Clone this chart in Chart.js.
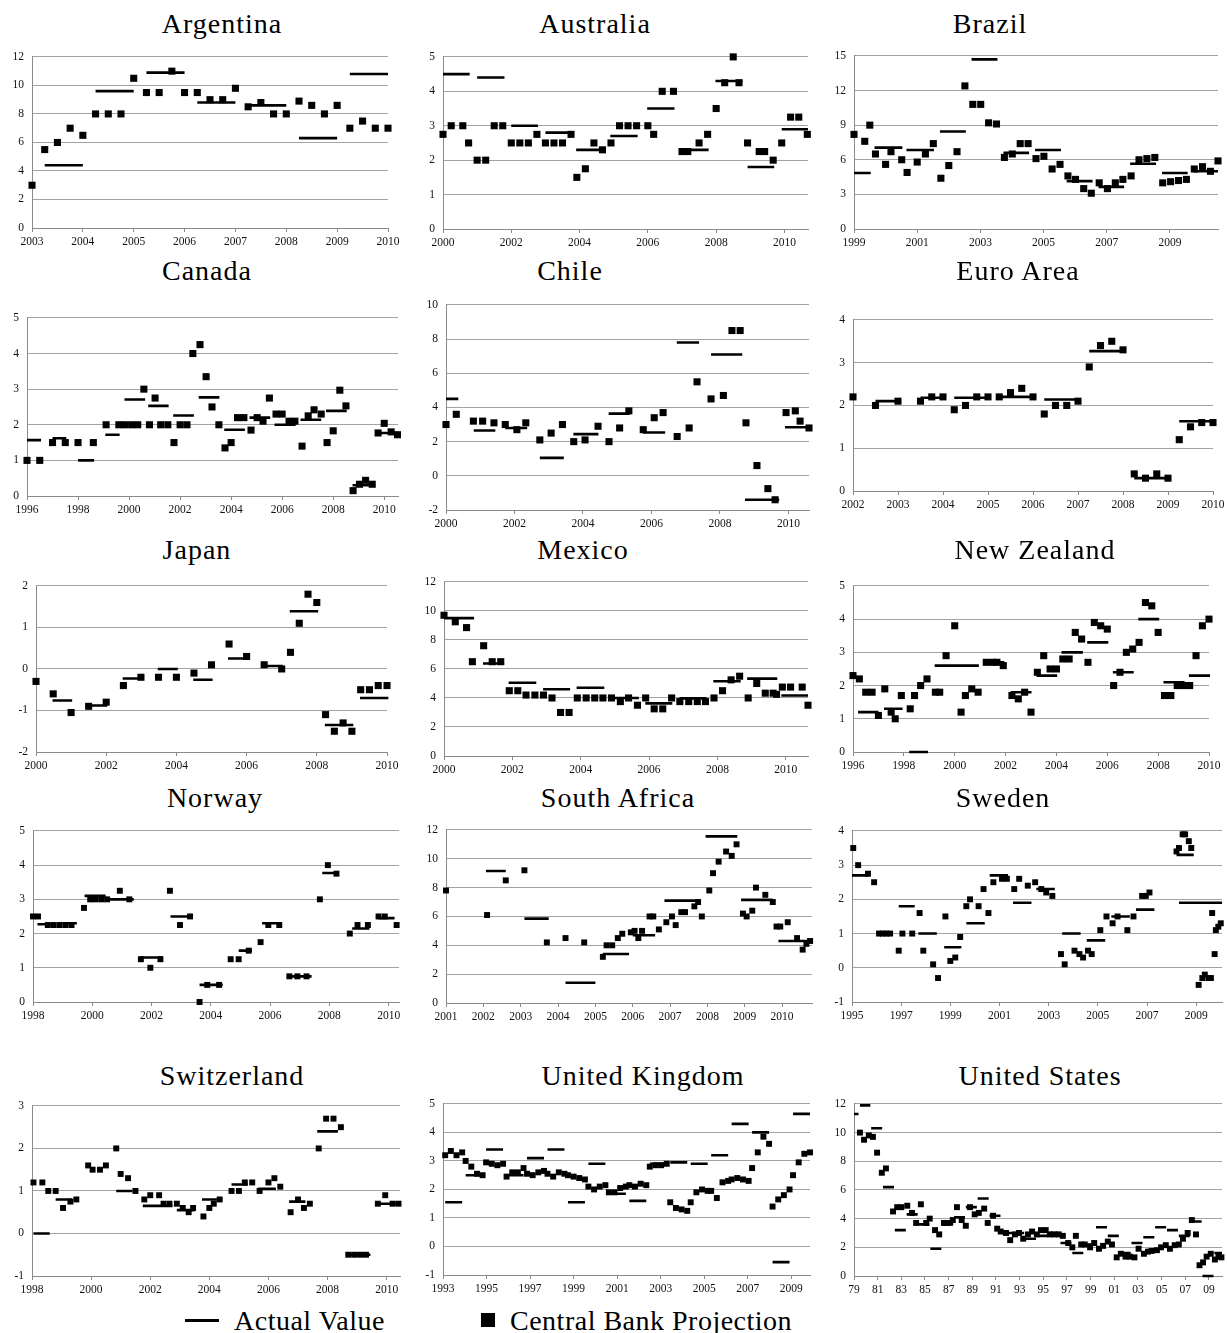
<!DOCTYPE html>
<html>
<head>
<meta charset="utf-8">
<script src="https://cdn.jsdelivr.net/npm/chart.js@4.4.1/dist/chart.umd.min.js"></script>
<style>
  html, body { margin: 0; padding: 0; background: #fff; }
  body { width: 1227px; height: 1333px; position: relative; overflow: hidden; }
  .ttl { position: absolute; width: 400px; text-align: center; font-family: "Liberation Serif", "DejaVu Serif", serif;
         font-size: 28px; line-height: 28px; letter-spacing: 1px; color: #000; white-space: nowrap; }
  .leg { position: absolute; font-family: "Liberation Serif", serif; font-size: 28px; line-height: 28px;
         letter-spacing: 0.5px; color: #000; white-space: nowrap; }
</style>
</head>
<body>
<script>
// ---- Argentina
const argProjX = [2003,2003.25,2003.5,2003.75,2004,2004.25,2004.5,2004.75,2005,2005.25,2005.5,2005.75,2006,2006.25,2006.5,2006.75,2007,2007.25,2007.5,2007.75,2008,2008.25,2008.5,2008.75,2009,2009.25,2009.5,2009.75,2010];
const argProjY = [3,5.5,6,7,6.5,8,8,8,10.5,9.5,9.5,11,9.5,9.5,9,9,9.8,8.5,8.8,8,8,8.9,8.6,8,8.6,7,7.5,7,7];
const argActFrom = [2003.25,2004.25,2005.25,2006.25,2007.25,2008.25,2009.25];
const argActTo = [2004,2005,2006,2007,2008,2009,2010];
const argActY = [4.4,9.6,10.9,8.8,8.6,6.3,10.8];
const argXTicks = [2003,2004,2005,2006,2007,2008,2009,2010];
const argYTicks = [0,2,4,6,8,10,12];

// ---- Australia
const ausProjX = [2000,2000.24,2000.58,2000.75,2001,2001.25,2001.5,2001.75,2002,2002.25,2002.5,2002.75,2003,2003.25,2003.5,2003.75,2003.92,2004.17,2004.42,2004.67,2004.92,2005.17,2005.42,2005.67,2006,2006.17,2006.42,2006.75,2007,2007.17,2007.5,2007.75,2008,2008.25,2008.5,2008.67,2008.92,2009.26,2009.42,2009.67,2009.92,2010.18,2010.42,2010.67];
const ausProjY = [2.75,3,3,2.5,2,2,3,3,2.5,2.5,2.5,2.75,2.5,2.5,2.5,2.75,1.5,1.75,2.5,2.3,2.5,3,3,3,3,2.75,4,4,2.25,2.25,2.5,2.75,3.5,4.25,5,4.25,2.5,2.25,2.25,2,2.5,3.25,3.25,2.75];
const ausActFrom = [2000,2001,2002,2003,2003.9,2004.9,2005.98,2007.08,2007.98,2008.92,2009.92];
const ausActTo = [2000.78,2001.8,2002.78,2003.78,2004.75,2005.7,2006.78,2007.78,2008.77,2009.7,2010.69];
const ausActY = [4.5,4.4,3,2.8,2.3,2.7,3.5,2.3,4.3,1.8,2.9];
const ausXTicks = [2000,2002,2004,2006,2008,2010];
const ausYTicks = [0,1,2,3,4,5];

// ---- Brazil
const braProjX = [1999,1999.34,1999.5,1999.68,2000,2000.17,2000.51,2000.68,2001,2001.26,2001.51,2001.75,2002,2002.26,2002.51,2002.76,2003.01,2003.26,2003.51,2003.76,2004.01,2004.26,2004.51,2004.76,2005.01,2005.27,2005.52,2005.77,2006.01,2006.27,2006.51,2006.76,2007.02,2007.27,2007.51,2007.77,2008.02,2008.27,2008.52,2008.77,2009.02,2009.27,2009.52,2009.77,2010.03,2010.28,2010.52];
const braProjY = [8.2,7.6,9,6.5,5.6,6.7,6,4.9,5.8,6.5,7.4,4.4,5.5,6.7,12.4,10.8,10.8,9.2,9.1,6.2,6.5,7.4,7.4,6.1,6.3,5.2,5.6,4.6,4.3,3.5,3.1,4,3.5,4,4.3,4.6,6,6.1,6.2,4,4.1,4.2,4.3,5.2,5.4,5,5.9];
const braActFrom = [1999,1999.65,2000.66,2001.72,2002.72,2003.73,2004.73,2005.73,2006.74,2007.74,2008.75,2009.75];
const braActTo = [1999.53,2000.53,2001.53,2002.54,2003.54,2004.54,2005.55,2006.55,2007.55,2008.56,2009.56,2010.52];
const braActY = [4.85,7.05,6.85,8.45,14.7,6.6,6.85,4.15,3.65,5.65,4.85,5.0];
const braXTicks = [1999,2001,2003,2005,2007,2009];
const braYTicks = [0,3,6,9,12,15];

// ---- Canada
const canProjX = [1996,1996.5,1997,1997.5,1998,1998.6,1999.1,1999.6,1999.83,2000.1,2000.34,2000.58,2000.8,2001.02,2001.24,2001.52,2001.76,2002,2002.27,2002.5,2002.78,2003.02,2003.25,2003.52,2003.76,2004,2004.25,2004.5,2004.78,2005.02,2005.25,2005.5,2005.76,2006,2006.27,2006.5,2006.78,2007.02,2007.25,2007.53,2007.76,2008,2008.26,2008.5,2008.78,2009.03,2009.27,2009.53,2009.76,2010,2010.27,2010.52];
const canProjY = [1,1,1.5,1.5,1.5,1.5,2,2,2,2,2,3,2,2.75,2,2,1.5,2,2,4,4.25,3.35,2.5,2,1.35,1.5,2.2,2.2,1.85,2.2,2.1,2.75,2.3,2.3,2.1,2.1,1.4,2.25,2.42,2.3,1.5,1.83,2.97,2.53,0.15,0.33,0.44,0.33,1.77,2.04,1.8,1.72];
const canActFrom = [1996,1997,1998,1999.07,1999.82,2000.75,2001.73,2002.73,2003.73,2004.72,2005.7,2006.72,2007.72,2008.76,2009.75];
const canActTo = [1996.55,1997.54,1998.63,1999.63,2000.63,2001.55,2002.54,2003.54,2004.54,2005.53,2006.53,2007.53,2008.53,2009.55,2010.54];
const canActY = [1.57,1.62,1.0,1.72,2.71,2.53,2.26,2.77,1.86,2.2,2.0,2.14,2.39,0.3,1.77];
const canXTicks = [1996,1998,2000,2002,2004,2006,2008,2010];
const canYTicks = [0,1,2,3,4,5];

// ---- Chile
const chiProjX = [2000,2000.3,2000.8,2001.07,2001.4,2001.73,2002.07,2002.33,2002.74,2003.07,2003.4,2003.73,2004.06,2004.44,2004.76,2005.07,2005.34,2005.76,2006.08,2006.34,2006.75,2007.1,2007.33,2007.74,2008.1,2008.35,2008.59,2008.76,2009.08,2009.4,2009.61,2009.93,2010.2,2010.34,2010.6];
const chiProjY = [3,3.6,3.2,3.2,3.1,3,2.7,3.1,2.1,2.5,3,2,2.1,2.9,2,2.8,3.8,2.7,3.4,3.7,2.3,2.8,5.5,4.5,4.7,8.5,8.5,3.1,0.6,-0.75,-1.4,3.7,3.8,3.2,2.8];
const chiActFrom = [2000,2000.81,2001.73,2002.74,2003.72,2004.75,2005.75,2006.74,2007.74,2008.73,2009.9];
const chiActTo = [2000.36,2001.44,2002.37,2003.44,2004.45,2005.36,2006.4,2007.39,2008.65,2009.73,2010.6];
const chiActY = [4.5,2.65,2.8,1.05,2.44,3.64,2.53,7.8,7.1,-1.4,2.84];
const chiXTicks = [2000,2002,2004,2006,2008,2010];
const chiYTicks = [-2,0,2,4,6,8,10];

// ---- Euro Area
const euroProjX = [2002,2002.5,2003,2003.5,2003.75,2004,2004.25,2004.5,2004.75,2005,2005.25,2005.5,2005.75,2006,2006.25,2006.5,2006.75,2007,2007.25,2007.5,2007.75,2008,2008.25,2008.5,2008.75,2009,2009.25,2009.5,2009.75,2010];
const euroProjY = [2.2,2,2.1,2.1,2.2,2.2,1.9,2,2.2,2.2,2.2,2.3,2.4,2.2,1.8,2,2,2.1,2.9,3.4,3.5,3.3,0.4,0.3,0.4,0.3,1.2,1.5,1.6,1.6];
const euroActFrom = [2002.5,2003.5,2004.25,2005.25,2006.25,2007.25,2008.25,2009.25];
const euroActTo = [2003,2004,2005,2006,2007,2008,2009,2010];
const euroActY = [2.1,2.18,2.18,2.2,2.14,3.27,0.3,1.63];
const euroXTicks = [2002,2003,2004,2005,2006,2007,2008,2009,2010];
const euroYTicks = [0,1,2,3,4];

// ---- Japan
const japProjX = [2000,2000.49,2001,2001.5,2002,2002.49,2002.99,2003.49,2004,2004.5,2005,2005.5,2006,2006.5,2007,2007.25,2007.5,2007.75,2008,2008.25,2008.5,2008.75,2009,2009.25,2009.5,2009.75,2010];
const japProjY = [-0.3,-0.6,-1.05,-0.9,-0.8,-0.4,-0.2,-0.2,-0.2,-0.1,0.1,0.6,0.3,0.1,0,0.4,1.1,1.8,1.6,-1.1,-1.5,-1.3,-1.5,-0.5,-0.5,-0.4,-0.4];
const japActFrom = [2000.47,2001.48,2002.47,2003.47,2004.48,2005.47,2006.48,2007.23,2008.23,2009.23];
const japActTo = [2001.03,2002.03,2003.03,2004.04,2005.03,2006.04,2007.03,2008.04,2009.04,2010.04];
const japActY = [-0.76,-0.88,-0.23,0,-0.26,0.25,0.07,1.39,-1.35,-0.7];
const japXTicks = [2000,2002,2004,2006,2008,2010];
const japYTicks = [-2,-1,0,1,2];

// ---- Mexico
const mexProjX = [2000,2000.33,2000.66,2000.83,2001.16,2001.41,2001.66,2001.91,2002.16,2002.4,2002.66,2002.91,2003.16,2003.41,2003.66,2003.9,2004.16,2004.41,2004.65,2004.9,2005.16,2005.4,2005.66,2005.9,2006.15,2006.4,2006.66,2006.9,2007.16,2007.41,2007.65,2007.9,2008.15,2008.4,2008.65,2008.9,2009.15,2009.4,2009.63,2009.73,2009.9,2010.14,2010.48,2010.65];
const mexProjY = [9.7,9.25,8.85,6.5,7.6,6.5,6.5,4.5,4.5,4.2,4.2,4.2,4,3,3,4,4,4,4,4,3.75,4,3.5,4,3.25,3.25,4,3.75,3.75,3.75,3.75,4,4.5,5.25,5.5,4,5,4.33,4.33,4.25,4.75,4.75,4.75,3.5];
const mexActFrom = [2000,2001.14,2001.89,2002.9,2003.88,2004.9,2005.89,2006.89,2007.88,2008.87,2009.87];
const mexActTo = [2000.88,2001.76,2002.7,2003.69,2004.69,2005.7,2006.68,2007.68,2008.68,2009.75,2010.65];
const mexActY = [9.5,6.38,5.05,4.6,4.7,4.0,3.63,3.97,5.15,5.33,4.17];
const mexXTicks = [2000,2002,2004,2006,2008,2010];
const mexYTicks = [0,2,4,6,8,10,12];

// ---- New Zealand
const nzProjX = [1996,1996.25,1996.5,1996.75,1997,1997.25,1997.5,1997.66,1997.9,1998.25,1998.42,1998.66,1998.91,1999.24,1999.41,1999.66,2000,2000.25,2000.42,2000.67,2000.92,2001.24,2001.49,2001.66,2001.91,2002.25,2002.5,2002.75,2003,2003.25,2003.5,2003.75,2004,2004.25,2004.5,2004.74,2004.99,2005.24,2005.49,2005.74,2006,2006.25,2006.5,2006.75,2007,2007.25,2007.5,2007.75,2008,2008.25,2008.5,2008.75,2009,2009.24,2009.49,2009.74,2010];
const nzProjY = [2.3,2.2,1.8,1.8,1.1,1.9,1.2,1.0,1.7,1.3,1.7,2.0,2.2,1.8,1.8,2.9,3.8,1.2,1.7,1.9,1.8,2.7,2.7,2.7,2.6,1.7,1.6,1.8,1.2,2.4,2.9,2.5,2.5,2.8,2.8,3.6,3.4,2.7,3.9,3.8,3.7,2.0,2.4,3.0,3.1,3.3,4.5,4.4,3.6,1.7,1.7,2.0,2.0,2.0,2.9,3.8,4.0];
const nzActFrom = [1996.2,1997.22,1998.21,1999.21,2001.15,2002.2,2003.22,2004.2,2005.21,2006.22,2007.22,2008.21,2009.21];
const nzActTo = [1997.0,1997.95,1998.95,2000.95,2001.95,2003.02,2004.03,2005.04,2006.04,2007.04,2008.04,2009.04,2010.04];
const nzActY = [1.2,1.3,0,2.6,2.7,1.8,2.3,3.0,3.3,2.4,4.0,2.1,2.3];
const nzXTicks = [1996,1998,2000,2002,2004,2006,2008,2010];
const nzYTicks = [0,1,2,3,4,5];

// ---- Norway
const norProjX = [1998,1998.17,1998.5,1998.7,1998.9,1999.1,1999.3,1999.72,1999.93,2000.1,2000.3,2000.5,2000.93,2001.25,2001.64,2001.96,2002.3,2002.62,2002.96,2003.3,2003.62,2003.88,2004.28,2004.67,2004.94,2005.28,2005.68,2005.94,2006.31,2006.65,2006.92,2007.23,2007.68,2007.95,2008.24,2008.69,2008.95,2009.3,2009.66,2009.87,2010.27];
const norProjY = [2.5,2.5,2.25,2.25,2.25,2.25,2.25,2.75,3,3,3,3,3.25,3,1.25,1,1.25,3.25,2.25,2.5,0,0.5,0.5,1.25,1.25,1.5,1.75,2.25,2.25,0.75,0.75,0.75,3,4,3.75,2,2.25,2.25,2.5,2.5,2.25];
const norActFrom = [1998.15,1999.0,1999.74,2000.6,2001.6,2002.64,2003.62,2004.94,2005.73,2006.6,2007.76,2008.77,2009.66];
const norActTo = [1998.75,1999.48,2000.45,2001.4,2002.38,2003.36,2004.4,2005.39,2006.39,2007.4,2008.29,2009.35,2010.2];
const norActY = [2.27,2.3,3.1,3.0,1.3,2.5,0.5,1.5,2.3,0.75,3.77,2.15,2.45];
const norXTicks = [1998,2000,2002,2004,2006,2008,2010];
const norYTicks = [0,1,2,3,4,5];

// ---- South Africa
const safProjX = [2001,2002.1,2002.6,2003.1,2003.7,2004.2,2004.7,2005.2,2005.3,2005.45,2005.6,2005.72,2005.95,2006.05,2006.15,2006.25,2006.45,2006.55,2006.7,2006.9,2007.05,2007.15,2007.3,2007.4,2007.65,2007.75,2007.85,2008.05,2008.15,2008.3,2008.5,2008.65,2008.78,2008.95,2009.05,2009.2,2009.3,2009.55,2009.75,2009.85,2009.95,2010.15,2010.4,2010.55,2010.65,2010.75];
const safProjY = [7.8,6.1,8.5,9.2,4.2,4.5,4.2,3.2,4,4,4.5,4.8,4.9,5,4.5,5,6,6,5.1,5.6,6,5.4,6.3,6.3,6.7,7,6,7.8,9,9.8,10.5,10.2,11,6.2,6,6.4,8,7.5,7,5.3,5.3,5.6,4.5,3.7,4.1,4.3];
const safActFrom = [2002.07,2003.1,2004.2,2005.2,2006.0,2006.85,2007.95,2008.9,2009.9];
const safActTo = [2002.6,2003.75,2005.0,2005.9,2006.6,2007.75,2008.8,2009.75,2010.75];
const safActY = [9.15,5.85,1.4,3.4,4.7,7.1,11.55,7.15,4.3];
const safXTicks = [2001,2002,2003,2004,2005,2006,2007,2008,2009,2010];
const safYTicks = [0,2,4,6,8,10,12];

// ---- Sweden
const sweProjX = [1995.05,1995.25,1995.65,1995.9,1996.1,1996.25,1996.4,1996.55,1996.9,1997.05,1997.45,1997.75,1997.9,1998.3,1998.5,1998.8,1999.0,1999.2,1999.4,1999.65,1999.8,2000.15,2000.35,2000.55,2000.75,2001.1,2001.3,2001.6,2001.8,2002.15,2002.45,2002.7,2002.9,2003.15,2003.5,2003.65,2004.05,2004.25,2004.4,2004.6,2004.75,2005.1,2005.35,2005.6,2005.8,2006.2,2006.45,2006.8,2006.95,2007.1,2008.2,2008.3,2008.45,2008.55,2008.7,2008.8,2009.1,2009.25,2009.35,2009.5,2009.6,2009.65,2009.75,2009.8,2009.9,2010.0];
const sweProjY = [3.5,3.0,2.75,2.5,1,1,1,1,0.5,1,1,1.6,0.5,0.1,-0.3,1.5,0.2,0.3,0.9,1.8,2.0,1.8,2.3,1.6,2.5,2.6,2.6,2.3,2.6,2.4,2.5,2.3,2.2,2.1,0.4,0.1,0.5,0.4,0.3,0.5,0.4,1.1,1.5,1.3,1.5,1.1,1.5,2.1,2.1,2.2,3.4,3.5,3.9,3.9,3.7,3.5,-0.5,-0.3,-0.2,-0.3,-0.3,1.6,0.4,1.1,1.2,1.3];
const sweActFrom = [1995.0,1996.05,1996.9,1997.7,1998.75,1999.65,2000.6,2001.55,2002.5,2003.55,2004.55,2005.55,2006.55,2008.2,2008.3];
const sweActTo = [1995.7,1996.6,1997.55,1998.45,1999.45,2000.4,2001.35,2002.3,2003.25,2004.3,2005.3,2006.3,2007.3,2008.9,2010.05];
const sweActY = [2.7,1.0,1.8,1.0,0.6,1.3,2.7,1.9,2.3,1.0,0.8,1.5,1.7,3.3,1.9];
const sweXTicks = [1995,1997,1999,2001,2003,2005,2007,2009];
const sweYTicks = [-1,0,1,2,3,4];

// ---- Switzerland
const swiProjX = [1998.05,1998.35,1998.55,1998.8,1999.05,1999.3,1999.5,1999.9,2000.05,2000.3,2000.5,2000.85,2001.0,2001.25,2001.5,2001.8,2002.0,2002.3,2002.45,2002.65,2002.9,2003.1,2003.3,2003.45,2003.8,2004.0,2004.15,2004.35,2004.75,2005.0,2005.2,2005.45,2005.7,2006.0,2006.2,2006.4,2006.75,2007.0,2007.2,2007.4,2007.7,2007.95,2008.2,2008.45,2008.7,2008.9,2009.1,2009.3,2009.7,2009.95,2010.2,2010.4];
const swiProjY = [1.2,1.2,1,1,0.6,0.75,0.8,1.6,1.5,1.5,1.6,2,1.4,1.3,1,0.8,0.9,0.9,0.7,0.7,0.7,0.6,0.5,0.6,0.4,0.6,0.7,0.8,1,1,1.2,1.2,1,1.2,1.3,1.1,0.5,0.8,0.6,0.7,2,2.7,2.7,2.5,-0.5,-0.5,-0.5,-0.5,0.7,0.9,0.7,0.7];
const swiActFrom = [1998.05,1998.8,2000.85,2001.75,2002.9,2003.75,2004.75,2005.65,2006.7,2007.65,2008.65,2009.65];
const swiActTo = [1998.6,1999.35,2001.4,2002.75,2003.5,2004.3,2005.3,2006.25,2007.25,2008.35,2009.45,2010.45];
const swiActY = [0,0.8,1.0,0.65,0.55,0.8,1.15,1.05,0.75,2.4,-0.5,0.7];
const swiXTicks = [1998,2000,2002,2004,2006,2008,2010];
const swiYTicks = [-1,0,1,2,3];

// ---- United Kingdom
const ukProjX = [1993.1,1993.36,1993.62,1993.88,1994.04,1994.3,1994.56,1994.82,1994.98,1995.24,1995.5,1995.76,1995.92,1996.18,1996.44,1996.7,1996.86,1997.12,1997.38,1997.64,1997.8,1998.06,1998.32,1998.58,1998.74,1999.0,1999.26,1999.52,1999.68,1999.94,2000.2,2000.46,2000.62,2000.88,2001.14,2001.4,2001.56,2001.82,2002.08,2002.34,2002.5,2002.76,2003.02,2003.28,2003.44,2003.7,2003.96,2004.22,2004.38,2004.64,2004.9,2005.16,2005.32,2005.58,2005.84,2006.1,2006.26,2006.52,2006.78,2007.04,2007.2,2007.46,2007.72,2007.98,2008.14,2008.4,2008.66,2008.92,2009.08,2009.34,2009.6,2009.86];
const ukProjY = [3.2,3.35,3.2,3.3,3.0,2.8,2.55,2.5,2.95,2.9,2.85,2.9,2.45,2.6,2.6,2.75,2.55,2.5,2.6,2.65,2.55,2.45,2.6,2.55,2.5,2.45,2.4,2.35,2.1,2.0,2.1,2.15,1.9,1.9,2.05,2.1,2.15,2.1,2.2,2.15,2.8,2.85,2.85,2.9,1.55,1.35,1.3,1.25,1.55,1.9,2.0,1.95,1.95,1.7,2.25,2.3,2.35,2.4,2.35,2.3,2.75,3.3,3.85,3.6,1.4,1.65,1.8,2.0,2.5,2.95,3.25,3.3];
const ukActFrom = [1993.1,1994.04,1994.98,1995.92,1996.86,1997.8,1998.74,1999.68,2000.62,2001.56,2002.5,2003.44,2004.38,2005.32,2006.26,2007.2,2008.14,2009.08];
const ukActTo = [1993.88,1994.82,1995.76,1996.7,1997.64,1998.58,1999.52,2000.46,2001.4,2002.34,2003.28,2004.22,2005.16,2006.1,2007.04,2007.98,2008.92,2009.86];
const ukActY = [1.55,2.5,3.4,2.5,3.1,3.4,1.55,2.9,1.85,1.6,2.9,2.95,2.9,3.2,4.3,4.0,-0.55,4.65];
const ukXTicks = [1993,1995,1997,1999,2001,2003,2005,2007,2009];
const ukYTicks = [-1,0,1,2,3,4,5];

// ---- United States
const usProjX = [1979.5,1979.85,1980.25,1980.6,1980.95,1981.35,1981.7,1982.3,1982.65,1983.0,1983.5,1983.9,1984.25,1984.65,1985.1,1985.4,1985.85,1986.2,1986.6,1986.95,1987.35,1987.7,1988.1,1988.45,1988.8,1989.2,1989.55,1990.0,1990.3,1990.75,1991.1,1991.4,1991.85,1992.2,1992.6,1992.95,1993.3,1993.7,1994.05,1994.45,1994.8,1995.2,1995.55,1995.9,1996.3,1996.65,1997.1,1997.45,1997.75,1998.2,1998.5,1998.95,1999.3,1999.7,2000.05,2000.45,2000.8,2001.2,2001.55,2001.95,2002.3,2002.7,2003.05,2003.5,2003.85,2004.15,2004.6,2004.95,2005.35,2005.7,2006.1,2006.45,2006.8,2007.2,2007.55,2007.9,2008.2,2008.5,2008.8,2009.15,2009.5,2009.8,2010.05];
const usProjY = [10.0,9.5,9.8,9.7,8.6,7.2,7.5,4.5,4.8,4.8,4.9,4.4,3.7,5.0,3.7,4.0,3.2,2.9,3.7,3.7,3.9,4.8,3.9,3.5,4.8,4.3,4.4,4.7,3.7,4.2,3.3,3.1,3.0,2.5,2.9,3.0,2.6,2.9,3.1,2.9,3.2,3.2,2.9,2.9,2.9,2.8,2.3,2.0,2.8,2.2,2.2,2.0,2.3,1.9,2.1,2.4,2.2,1.3,1.55,1.35,1.35,1.3,1.9,1.55,1.7,1.75,1.8,2.0,2.15,1.9,2.15,2.2,2.6,3.0,3.9,2.9,0.75,0.95,1.35,1.55,1.15,1.35,1.3];
const usActFrom = [1979.0,1979.5,1980.45,1981.45,1982.45,1983.45,1984.45,1985.45,1986.45,1987.45,1988.45,1989.45,1990.45,1991.45,1992.45,1993.45,1994.45,1995.45,1996.45,1997.45,1998.45,1999.45,2000.45,2001.45,2002.45,2003.45,2004.45,2005.45,2006.45,2007.45,2008.45,2009.45];
const usActTo = [1979.38,1980.38,1981.38,1982.38,1983.38,1984.38,1985.38,1986.38,1987.38,1988.38,1989.38,1990.38,1991.38,1992.38,1993.38,1994.38,1995.38,1996.38,1997.38,1998.38,1999.38,2000.38,2001.38,2002.38,2003.38,2004.38,2005.38,2006.38,2007.38,2008.38,2009.38,2010.1];
const usActY = [11.3,11.9,10.3,6.2,3.2,4.3,3.6,1.9,3.6,4.1,4.8,5.4,4.2,3.0,3.0,2.6,2.8,3.0,2.3,1.6,2.2,3.4,2.8,1.6,2.3,2.7,3.4,3.2,2.8,3.8,0,1.6];
const usXTicks = [1979,1981,1983,1985,1987,1989,1991,1993,1995,1997,1999,2001,2003,2005,2007,2009];
const usXLabels = ['79','81','83','85','87','89','91','93','95','97','99','01','03','05','07','09'];
const usYTicks = [0,2,4,6,8,10,12];

// ---------------------------------------------------------------
const GRID = '#a3a3a3';
const AXIS = '#8a8a8a';
const TICKFONT = { family: "'Liberation Serif', 'Times New Roman', serif", size: 11.5 };

function title(text, cx, baseline) {
	var d = document.createElement('div');
	d.className = 'ttl';
	d.textContent = text;
	d.style.left = (cx - 200) + 'px';
	d.style.top = (baseline - 23) + 'px';
	document.body.appendChild(d);
}

function panel(p) {
	var l = p.box[0], t = p.box[1], r = p.box[2], b = p.box[3];
	var padT = 10, padR = 18, yW = 30, xH = 24;
	var w = r - l + yW + padR, h = b - t + padT + xH;
	var c = document.createElement('canvas');
	c.width = w; c.height = h;
	c.style.cssText = 'position:absolute;left:' + (l - yW) + 'px;top:' + (t - padT) + 'px;width:' + w + 'px;height:' + h + 'px';
	document.body.appendChild(c);

	// actual values as short horizontal segments, split by nulls
	var segs = [];
	p.actFrom.forEach(function(f, i) {
		segs.push({ x: f, y: p.actY[i] }, { x: p.actTo[i], y: p.actY[i] }, { x: p.actTo[i], y: null });
	});
	var pts = p.projX.map(function(x, i) { return { x: x, y: p.projY[i] }; });

	new Chart(c.getContext('2d'), {
		type: 'scatter',
		data: {
			datasets: [
				{
					type: 'line', data: segs, borderColor: '#000', borderWidth: 2.6,
					pointRadius: 0, fill: false, spanGaps: false, clip: false, borderCapStyle: 'butt'
				},
				{
					data: pts, pointStyle: 'rect', pointRadius: p.r, backgroundColor: '#000',
					borderWidth: 0, clip: false
				}
			]
		},
		options: {
			responsive: false,
			animation: false,
			layout: { padding: { top: padT, right: padR, left: 0, bottom: 0 } },
			plugins: { legend: { display: false }, tooltip: { enabled: false } },
			scales: {
				x: {
					type: 'linear', min: p.xMin, max: p.xMax,
					afterBuildTicks: function(ax) { ax.ticks = p.xTicks.map(function(v) { return { value: v }; }); },
					afterFit: function(ax) { ax.height = xH; },
					ticks: {
						font: TICKFONT, color: '#111', padding: 3, maxRotation: 0, autoSkip: false,
						callback: function(v, i) { return p.xLabels ? p.xLabels[i] : String(v); }
					},
					grid: { drawOnChartArea: false, drawTicks: true, tickLength: 4, color: AXIS },
					border: { color: AXIS }
				},
				y: {
					min: p.yTicks[0], max: p.yTicks[p.yTicks.length - 1],
					afterBuildTicks: function(ax) { ax.ticks = p.yTicks.map(function(v) { return { value: v }; }); },
					afterFit: function(ax) { ax.width = yW; },
					ticks: { font: TICKFONT, color: '#111', padding: 8 },
					grid: { color: GRID, drawTicks: false },
					border: { color: AXIS }
				}
			}
		}
	});
}

// row 1
title('Argentina', 222, 33);
panel({ box: [32, 52, 388, 228], xMin: 2003, xMax: 2010, xTicks: argXTicks, yTicks: argYTicks,
	projX: argProjX, projY: argProjY, actFrom: argActFrom, actTo: argActTo, actY: argActY, r: 5 });
title('Australia', 595, 33);
panel({ box: [443, 52, 808, 229], xMin: 2000, xMax: 2010.69, xTicks: ausXTicks, yTicks: ausYTicks,
	projX: ausProjX, projY: ausProjY, actFrom: ausActFrom, actTo: ausActTo, actY: ausActY, r: 5 });
title('Brazil', 990, 33);
panel({ box: [854, 51, 1218, 229], xMin: 1999, xMax: 2010.52, xTicks: braXTicks, yTicks: braYTicks,
	projX: braProjX, projY: braProjY, actFrom: braActFrom, actTo: braActTo, actY: braActY, r: 5 });

// row 2
title('Canada', 207, 280);
panel({ box: [27, 313, 398, 496], xMin: 1996, xMax: 2010.54, xTicks: canXTicks, yTicks: canYTicks,
	projX: canProjX, projY: canProjY, actFrom: canActFrom, actTo: canActTo, actY: canActY, r: 5 });
title('Chile', 570, 280);
panel({ box: [446, 300, 809, 510], xMin: 2000, xMax: 2010.6, xTicks: chiXTicks, yTicks: chiYTicks,
	projX: chiProjX, projY: chiProjY, actFrom: chiActFrom, actTo: chiActTo, actY: chiActY, r: 5 });
title('Euro Area', 1018, 280);
panel({ box: [853, 315, 1213, 491], xMin: 2002, xMax: 2010, xTicks: euroXTicks, yTicks: euroYTicks,
	projX: euroProjX, projY: euroProjY, actFrom: euroActFrom, actTo: euroActTo, actY: euroActY, r: 5 });

// row 3
title('Japan', 197, 559);
panel({ box: [36, 581, 387, 752], xMin: 2000, xMax: 2010, xTicks: japXTicks, yTicks: japYTicks,
	projX: japProjX, projY: japProjY, actFrom: japActFrom, actTo: japActTo, actY: japActY, r: 5 });
title('Mexico', 583, 559);
panel({ box: [444, 577, 808, 756], xMin: 2000, xMax: 2010.65, xTicks: mexXTicks, yTicks: mexYTicks,
	projX: mexProjX, projY: mexProjY, actFrom: mexActFrom, actTo: mexActTo, actY: mexActY, r: 5 });
title('New Zealand', 1035, 559);
panel({ box: [853, 581, 1209, 752], xMin: 1996, xMax: 2010, xTicks: nzXTicks, yTicks: nzYTicks,
	projX: nzProjX, projY: nzProjY, actFrom: nzActFrom, actTo: nzActTo, actY: nzActY, r: 5 });

// row 4
title('Norway', 215, 807);
panel({ box: [33, 826, 399, 1002], xMin: 1998, xMax: 2010.35, xTicks: norXTicks, yTicks: norYTicks,
	projX: norProjX, projY: norProjY, actFrom: norActFrom, actTo: norActTo, actY: norActY, r: 4.2 });
title('South Africa', 618, 807);
panel({ box: [446, 825, 812, 1003], xMin: 2001, xMax: 2010.8, xTicks: safXTicks, yTicks: safYTicks,
	projX: safProjX, projY: safProjY, actFrom: safActFrom, actTo: safActTo, actY: safActY, r: 4.2 });
title('Sweden', 1003, 807);
panel({ box: [852, 826, 1222, 1002], xMin: 1995, xMax: 2010.05, xTicks: sweXTicks, yTicks: sweYTicks,
	projX: sweProjX, projY: sweProjY, actFrom: sweActFrom, actTo: sweActTo, actY: sweActY, r: 4.2 });

// row 5
title('Switzerland', 232, 1085);
panel({ box: [32, 1101, 400, 1276], xMin: 1998, xMax: 2010.45, xTicks: swiXTicks, yTicks: swiYTicks,
	projX: swiProjX, projY: swiProjY, actFrom: swiActFrom, actTo: swiActTo, actY: swiActY, r: 4.2 });
title('United Kingdom', 643, 1085);
panel({ box: [443, 1099, 810, 1275], xMin: 1993, xMax: 2009.86, xTicks: ukXTicks, yTicks: ukYTicks,
	projX: ukProjX, projY: ukProjY, actFrom: ukActFrom, actTo: ukActTo, actY: ukActY, r: 4.2 });
title('United States', 1040, 1085);
panel({ box: [854, 1099, 1222, 1276], xMin: 1979, xMax: 2010.1, xTicks: usXTicks, xLabels: usXLabels, yTicks: usYTicks,
	projX: usProjX, projY: usProjY, actFrom: usActFrom, actTo: usActTo, actY: usActY, r: 4.2 });

// legend
(function() {
	var ln = document.createElement('div');
	ln.style.cssText = 'position:absolute;left:185px;top:1319px;width:34px;height:3px;background:#000';
	document.body.appendChild(ln);
	var t1 = document.createElement('div');
	t1.className = 'leg'; t1.textContent = 'Actual Value';
	t1.style.left = '234px'; t1.style.top = '1307px';
	document.body.appendChild(t1);
	var sq = document.createElement('div');
	sq.style.cssText = 'position:absolute;left:481px;top:1313px;width:14px;height:14px;background:#000';
	document.body.appendChild(sq);
	var t2 = document.createElement('div');
	t2.className = 'leg'; t2.textContent = 'Central Bank Projection';
	t2.style.left = '510px'; t2.style.top = '1307px';
	document.body.appendChild(t2);
})();
</script>
</body>
</html>
